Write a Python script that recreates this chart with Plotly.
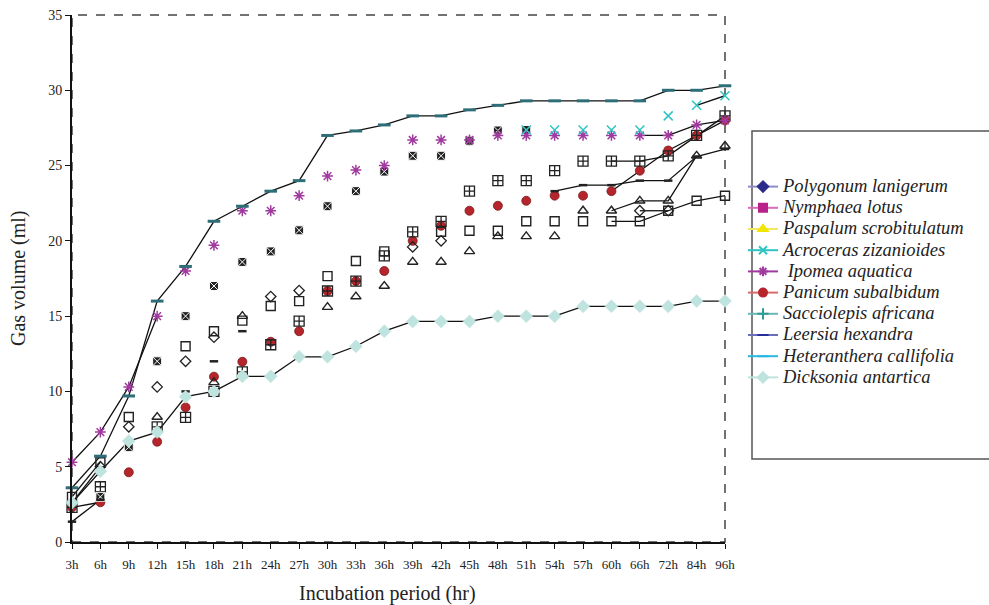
import plotly.graph_objects as go

N = None
cats = ["3h", "6h", "9h", "12h", "15h", "18h", "21h", "24h", "27h", "30h", "33h", "36h",
        "39h", "42h", "45h", "48h", "51h", "54h", "57h", "60h", "66h", "72h", "84h", "96h"]

polygonum = [2.6, 5.0, 7.65, 10.3, 12.0, 13.6, N, 16.3, 16.7, N, N, N,
             19.6, 20.0, N, N, N, N, N, N, 22.0, 22.0, N, N]
nymphaea = [2.3, 3.67, N, 7.65, 8.28, 10.0, 11.3, 13.1, 14.67, 16.67, 17.33, 19.0,
            20.6, 21.3, 23.3, 24.0, 24.0, 24.66, 25.3, 25.3, 25.3, 25.65, 27.0, 28.3]
paspalum = [N, N, N, 8.3, N, 10.6, 15.0, N, N, 15.6, 16.3, 17.0,
            18.6, 18.6, 19.3, 20.3, 20.3, 20.3, 22.0, 22.0, 22.66, 22.66, 25.65, 26.3]
acroceras = [N, N, N, N, N, N, N, N, N, N, N, N,
             N, N, N, N, 27.36, 27.36, 27.36, 27.36, 27.36, 28.3, 29.0, 29.64]
acroceras_early = [N, 3.0, 6.3, 12.0, 15.0, 17.0, 18.6, 19.3, 20.7, 22.3, 23.3, 24.6,
                   25.65, 25.65, 26.65, 27.33, 27.36, N, N, N, N, N, N, N]
ipomea = [5.3, 7.3, 10.3, 15.0, 18.0, 19.7, 22.0, 22.0, 23.0, 24.3, 24.7, 25.0,
          26.7, 26.7, 26.7, 27.0, 27.0, 27.0, 27.0, 27.0, 27.0, 27.0, 27.7, 28.0]
panicum = [2.3, 2.64, 4.63, 6.66, 8.94, 10.98, 11.97, 13.3, 14.0, 16.67, 17.33, 18.0,
           20.0, 21.0, 22.0, 22.33, 22.66, 23.0, 23.0, 23.3, 24.66, 26.0, 27.0, 28.0]
sacciolepis = [3.0, 5.3, 8.3, N, 13.0, 14.0, 14.7, 15.67, 16.0, 17.66, 18.66, 19.3,
               N, 20.6, 20.67, 20.67, 21.3, 21.3, 21.3, 21.3, 21.3, 22.0, 22.66, 23.0]
leersia = [1.35, 2.8, N, N, 10.0, 12.0, 14.0, N, N, N, N, N,
           N, N, N, N, N, 23.3, 23.7, 23.7, 24.0, 24.0, 25.6, 26.1]
heteranthera = [3.6, 5.7, 9.7, 16.0, 18.3, 21.3, 22.3, 23.3, 24.0, 27.0, 27.3, 27.7,
                28.3, 28.3, 28.7, 29.0, 29.3, 29.3, 29.3, 29.3, 29.3, 30.0, 30.0, 30.3]
dicksonia = [2.6, 4.7, 6.7, 7.3, 9.65, 10.0, 11.0, 11.0, 12.3, 12.3, 13.0, 14.0,
             14.65, 14.65, 14.65, 15.0, 15.0, 15.0, 15.65, 15.65, 15.65, 15.65, 16.0, 16.0]

legend_names = ["Polygonum lanigerum", "Nymphaea lotus", "Paspalum scrobitulatum",
                "Acroceras zizanioides", " Ipomea aquatica", "Panicum subalbidum",
                "Sacciolepis africana", "Leersia hexandra", "Heteranthera callifolia",
                "Dicksonia antartica"]

fig = go.Figure()

# ---- connecting line segments (index ranges into the series) ----
segments = [
    (heteranthera, [(0, 24)]),
    (dicksonia, [(0, 24)]),
    (ipomea, [(0, 4), (20, 24)]),
    (acroceras, [(22, 24)]),
    (panicum, [(0, 2), (19, 24)]),
    (nymphaea, [(19, 24)]),
    (sacciolepis, [(0, 2), (19, 24)]),
    (polygonum, [(0, 2), (19, 22)]),
    (paspalum, [(19, 23)]),
    (leersia, [(0, 2), (17, 24)]),
]
for series, ranges in segments:
    for a, b in ranges:
        fig.add_trace(go.Scatter(x=cats[a:b], y=series[a:b], mode="lines",
                                 line=dict(color="#111111", width=1.3),
                                 showlegend=False, hoverinfo="skip", cliponaxis=False))

# ---- markers as drawn in the plot ----
def mk(series, symbol, color, size, lw=1.2, lc=None):
    fig.add_trace(go.Scatter(x=cats, y=series, mode="markers", showlegend=False,
                             cliponaxis=False,
                             marker=dict(symbol=symbol, color=color, size=size,
                                         line=dict(color=lc if lc else color, width=lw))))

mk(panicum, "circle", "#b5252b", 9, 0.8, "#7a1a1a")
mk(nymphaea, "square-cross-open", "#222222", 10, 1.3)
mk(sacciolepis, "square-open", "#222222", 9, 1.4)
mk(polygonum, "diamond-open", "#222222", 8, 1.3)
mk(paspalum, "triangle-up-open", "#222222", 9, 1.4)
mk(acroceras_early, "square-x", "#222222", 9, 1.0, "#ffffff")
mk(leersia, "line-ew-open", "#222222", 6, 2.5)
mk(ipomea, "asterisk-open", "#a03a9e", 9, 1.5)
mk(acroceras, "x-thin-open", "#2fc4c4", 9, 1.5)
mk(heteranthera, "line-ew-open", "#2d6e78", 9, 3)
mk(dicksonia, "diamond", "#bfe3de", 10, 0.5, "#bfe3de")

# ---- legend entries (appearance as in the key) ----
legend_styles = [
    ("diamond", "#2b2b8c", "#8c8cc8"),
    ("square", "#b8228a", "#d86cb8"),
    ("triangle-up", "#f2e600", "#f2e860"),
    ("x-thin-open", "#2fc4c4", "#2fc4c4"),
    ("asterisk-open", "#a03a9e", "#a03a9e"),
    ("circle", "#b5252b", "#d86a6a"),
    ("cross-thin-open", "#2f9a96", "#6ab8b4"),
    ("line-ew-open", "#26309a", "#6a70b8"),
    ("line-ew-open", "#2ab8e0", "#2ab8e0"),
    ("diamond", "#bfe3de", "#bfe3de"),
]
for name, (sym, mcol, lcol) in zip(legend_names, legend_styles):
    fig.add_trace(go.Scatter(x=[N], y=[N], mode="lines+markers",
                             name='<span style="font-size:18.5px">' + name + "</span>",
                             line=dict(color=lcol, width=2),
                             marker=dict(symbol=sym, color=mcol, size=8,
                                         line=dict(color=mcol, width=2))))

W, H = 989, 605
L, R, T, B = 72, 725, 15, 542
pw, ph = R - L, B - T

def px(xp):
    return (xp - L) / pw

def py(yp):
    return (B - yp) / ph

fig.update_layout(
    width=W, height=H,
    margin=dict(l=L, r=W - R, t=T, b=H - B, autoexpand=False),
    paper_bgcolor="white", plot_bgcolor="white",
    font=dict(family="Liberation Serif, Times New Roman, serif", color="#222222"),
    showlegend=True,
    legend=dict(x=px(743), y=py(171), xanchor="left", yanchor="top",
                bgcolor="rgba(0,0,0,0)", borderwidth=0,
                font=dict(family="Liberation Serif, Times New Roman, serif",
                          size=14, color="#222222", style="italic"),
                itemwidth=30, tracegroupgap=0),
    xaxis=dict(type="category", categoryorder="array", categoryarray=cats,
               range=[0, len(cats) - 1], showgrid=False, zeroline=False,
               showline=True, linecolor="#111111", linewidth=2,
               ticks="outside", ticklen=5, tickcolor="#111111",
               ticklabelstandoff=4,
               tickfont=dict(size=13, color="#222222")),
    yaxis=dict(range=[0, 35], dtick=5, showgrid=False, zeroline=False,
               showline=True, linecolor="#111111", linewidth=2,
               ticks="outside", ticklen=5, tickcolor="#111111",
               tickfont=dict(size=14, color="#222222")),
    shapes=[
        dict(type="rect", xref="paper", yref="paper", x0=0, x1=1, y0=0, y1=1,
             line=dict(color="#444444", width=1.5, dash="dash"), layer="below"),
        dict(type="rect", xref="paper", yref="paper",
             x0=px(752), x1=px(1005), y0=py(459), y1=py(131),
             line=dict(color="#555555", width=1.5)),
    ],
    annotations=[
        dict(text="Gas volume (ml)", xref="paper", yref="paper",
             x=px(18), y=py(278), xanchor="center", yanchor="middle",
             textangle=-90, showarrow=False,
             font=dict(size=20, color="#222222")),
        dict(text="Incubation period (hr)", xref="paper", yref="paper",
             x=px(387), y=py(593), xanchor="center", yanchor="middle",
             showarrow=False, font=dict(size=20, color="#222222")),
    ],
)

fig.write_html("out.html", config={"displayModeBar": False},
               post_script="document.body.style.margin='0px';")
